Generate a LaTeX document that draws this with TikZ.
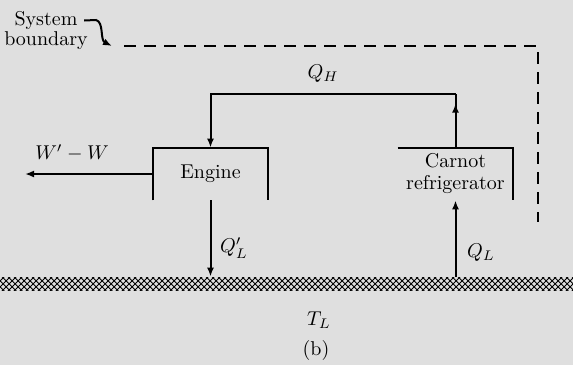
\documentclass[tikz,border=0pt]{standalone}
\usetikzlibrary{arrows.meta,patterns,calc}
\begin{document}
\begin{tikzpicture}[x=0.5pt,y=-0.5pt,
  line/.style={line width=1pt,black},
  arr/.style={line, -{Latex[length=4.5pt,width=3.5pt]}},
  bound/.style={line width=1pt, dash pattern=on 6pt off 4pt},
  box/.style={minimum width=57.5pt, minimum height=26pt, inner sep=0pt, align=center},
  lbl/.style={inner sep=1pt},
  groundst/.style={pattern=crosshatch, pattern color=black, minimum width=286.5pt, minimum height=6.5pt, inner sep=0pt}]
\fill[gray!25] (0,0) rectangle (573,365);
\useasboundingbox (0,0) rectangle (573,365);
% ground
\node[groundst] (gnd) at (286.5,283.5) {};
% boxes
\node[box] (engine) at (210.5,174) {Engine};
\node[box] (ref) at (455.5,174) {Carnot\\[-1pt]refrigerator};
\draw[line] (engine.south west) -- (engine.north west) -- (engine.north east) -- (engine.south east);
\draw[line] (ref.north west) -- (ref.north east) -- (ref.south east);
% Q_H loop
\coordinate (qhR) at (455.5,94);
\coordinate (qhL) at (210.5,94);
\draw[line] (ref.north) -- (qhR);
\draw[arr] (ref.north) -- ($(ref.north)+(0,-44)$);
\draw[arr] (qhR) -- (qhL) -- (engine.north);
\node[lbl] (lqh) at (323,74) {$Q_H$};
% work
\coordinate (wend) at (25,174);
\draw[arr] (engine.west) -- (wend);
\node[lbl] (lw) at (72,153) {$W'-W$};
% Q'_L
\draw[arr] (engine.south) -- (engine.south |- gnd.north);
\node[lbl] (lql1) at (234,248) {$Q'_L$};
% Q_L
\draw[arr] (ref.south |- gnd.north) -- (ref.south);
\node[lbl] (lql2) at (481,253) {$Q_L$};
% T_L, (b)
\node[lbl] (tl) at (319,320) {$T_L$};
\node[lbl] (cap) at (316,350) {(b)};
% system boundary
\node[lbl, align=center] (sysb) at (46,30) {System\\[-2pt]boundary};
\coordinate (bs) at (112,46);
\coordinate (bc) at (538,46);
\coordinate (be) at (538,222);
\draw[arr] ($(sysb.north east)+(-6,12)$) -- (96,20) .. controls (104,22) and (100,40) .. (bs);
\draw[bound] ($(bs)+(12,0)$) -- (bc) -- (be);
\end{tikzpicture}
\end{document}
